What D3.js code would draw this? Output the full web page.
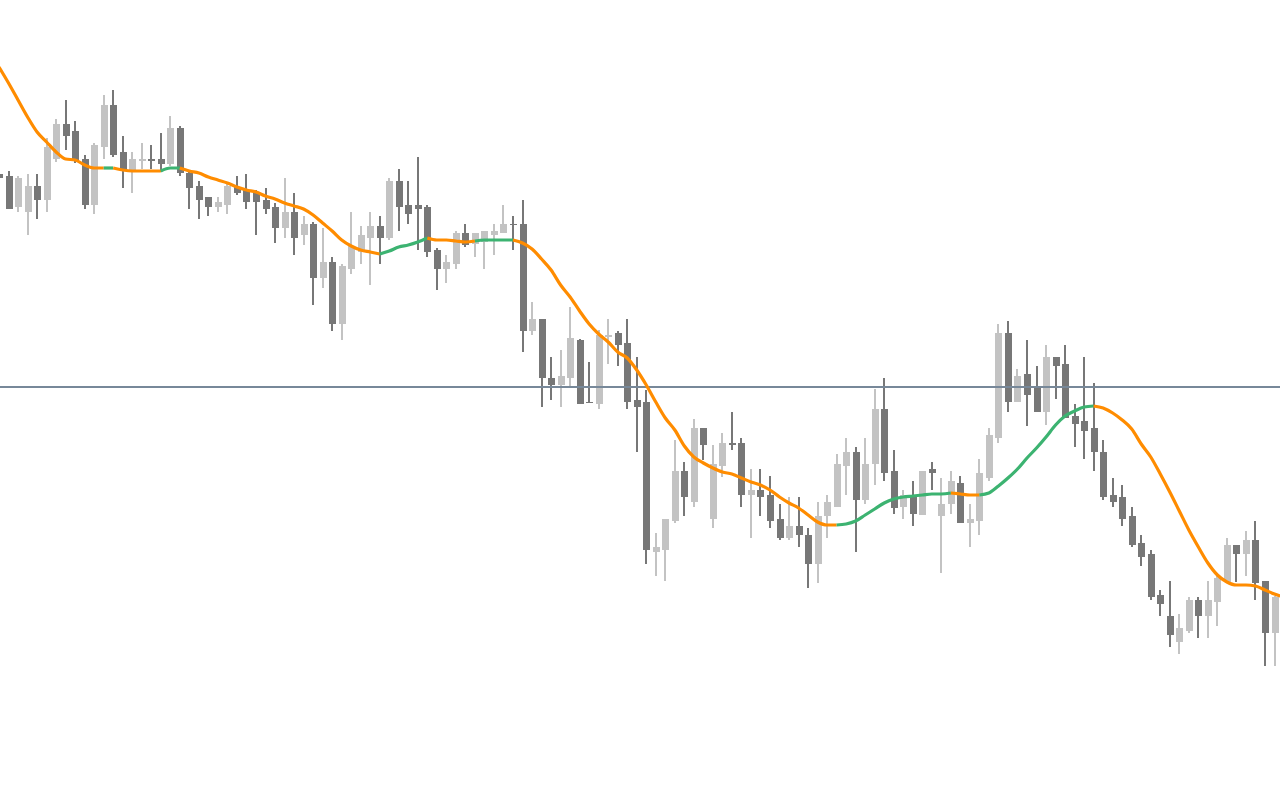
<!DOCTYPE html>
<html>
<head>
<meta charset="utf-8">
<script src="https://cdn.jsdelivr.net/npm/d3@7"></script>
<style>
html,body{margin:0;padding:0;background:#fff;overflow:hidden;}
svg{display:block;}
</style>
</head>
<body>
<svg id="chart" width="1280" height="800"></svg>
<script>
// ---- Data (prices) ----
const opens = [1.1826,1.1824,1.1793,1.1788,1.1814,1.1800,1.1841,1.1876,1.1869,1.1841,
1.1795,1.1853,1.1895,1.1848,1.1830,1.1839,1.1841,1.1841,1.1836,1.1872,
1.1827,1.1814,1.1803,1.1793,1.1795,1.1813,1.1810,1.1808,1.1800,1.1793,
1.1772,1.1788,1.1765,1.1776,1.1722,1.1738,1.1676,1.1731,1.1748,1.1762,
1.1774,1.1762,1.1819,1.1795,1.1795,1.1793,1.1750,1.1731,1.1736,1.1767,
1.1756,1.1758,1.1765,1.1767,1.1776,1.1776,1.1669,1.1681,1.1622,1.1615,
1.1622,1.1660,1.1598,1.1596,1.1663,1.1667,1.1657,1.1600,1.1598,1.1448,
1.1450,1.1479,1.1529,1.1498,1.1572,1.1481,1.1534,1.1557,1.1557,1.1505,
1.1510,1.1505,1.1481,1.1462,1.1474,1.1465,1.1436,1.1484,1.1493,1.1534,
1.1548,1.1500,1.1536,1.1591,1.1529,1.1493,1.1505,1.1485,1.1531,1.1484,
1.1496,1.1517,1.1477,1.1479,1.1522,1.1562,1.1667,1.1598,1.1626,1.1612,
1.1588,1.1643,1.1636,1.1584,1.1579,1.1572,1.1548,1.1505,1.1503,1.1484,
1.1457,1.1446,1.1405,1.1384,1.1358,1.1369,1.1400,1.1384,1.1398,1.1418,
1.1455,1.1446,1.1460,1.1419,1.1367];
const highs = [1.1828,1.1829,1.1824,1.1826,1.1826,1.1862,1.1881,1.1900,1.1879,1.1845,
1.1857,1.1905,1.1910,1.1864,1.1848,1.1857,1.1855,1.1867,1.1884,1.1874,
1.1830,1.1819,1.1803,1.1803,1.1816,1.1824,1.1826,1.1810,1.1812,1.1797,
1.1822,1.1807,1.1784,1.1778,1.1772,1.1743,1.1736,1.1788,1.1774,1.1788,
1.1784,1.1822,1.1831,1.1819,1.1843,1.1795,1.1752,1.1745,1.1769,1.1776,
1.1767,1.1769,1.1776,1.1795,1.1784,1.1800,1.1698,1.1681,1.1643,1.1650,
1.1693,1.1661,1.1638,1.1670,1.1681,1.1669,1.1681,1.1643,1.1610,1.1467,
1.1481,1.1560,1.1538,1.1581,1.1572,1.1555,1.1567,1.1588,1.1562,1.1531,
1.1531,1.1524,1.1496,1.1503,1.1503,1.1472,1.1498,1.1505,1.1546,1.1562,
1.1553,1.1562,1.1611,1.1622,1.1550,1.1510,1.1519,1.1529,1.1538,1.1522,
1.1529,1.1524,1.1496,1.1541,1.1572,1.1676,1.1679,1.1631,1.1660,1.1634,
1.1655,1.1643,1.1655,1.1596,1.1643,1.1617,1.1560,1.1522,1.1515,1.1493,
1.1465,1.1450,1.1410,1.1419,1.1386,1.1403,1.1403,1.1419,1.1424,1.1462,
1.1455,1.1469,1.1479,1.1419,1.1404];
const lows = [1.1820,1.1791,1.1788,1.1765,1.1781,1.1788,1.1838,1.1850,1.1837,1.1791,
1.1786,1.1841,1.1843,1.1812,1.1807,1.1831,1.1831,1.1828,1.1834,1.1824,
1.1791,1.1781,1.1784,1.1788,1.1786,1.1805,1.1791,1.1765,1.1786,1.1757,
1.1762,1.1745,1.1755,1.1695,1.1712,1.1669,1.1660,1.1726,1.1736,1.1715,
1.1736,1.1760,1.1769,1.1776,1.1750,1.1743,1.1710,1.1717,1.1731,1.1753,
1.1743,1.1731,1.1745,1.1767,1.1750,1.1648,1.1665,1.1593,1.1600,1.1593,
1.1612,1.1596,1.1597,1.1591,1.1636,1.1634,1.1591,1.1548,1.1436,1.1424,
1.1419,1.1477,1.1484,1.1493,1.1540,1.1472,1.1523,1.1550,1.1493,1.1462,
1.1484,1.1472,1.1460,1.1460,1.1453,1.1412,1.1417,1.1462,1.1493,1.1505,
1.1448,1.1496,1.1515,1.1519,1.1486,1.1481,1.1474,1.1485,1.1510,1.1427,
1.1486,1.1477,1.1453,1.1465,1.1519,1.1557,1.1588,1.1598,1.1574,1.1588,
1.1575,1.1601,1.1582,1.1553,1.1541,1.1529,1.1500,1.1493,1.1474,1.1453,
1.1434,1.1400,1.1384,1.1353,1.1346,1.1367,1.1362,1.1362,1.1374,1.1418,
1.1418,1.1424,1.1400,1.1334,1.1334];
const closes = [1.1822,1.1791,1.1822,1.1814,1.1800,1.1853,1.1876,1.1864,1.1840,1.1795,
1.1855,1.1895,1.1845,1.1830,1.1841,1.1841,1.1839,1.1836,1.1872,1.1827,
1.1812,1.1800,1.1793,1.1798,1.1814,1.1807,1.1798,1.1798,1.1791,1.1772,
1.1788,1.1762,1.1776,1.1722,1.1738,1.1676,1.1734,1.1754,1.1765,1.1774,
1.1762,1.1819,1.1793,1.1786,1.1791,1.1748,1.1731,1.1738,1.1767,1.1755,
1.1767,1.1769,1.1769,1.1776,1.1775,1.1669,1.1681,1.1622,1.1615,1.1624,
1.1662,1.1596,1.1597,1.1665,1.1665,1.1655,1.1598,1.1593,1.1450,1.1453,
1.1481,1.1529,1.1503,1.1572,1.1555,1.1536,1.1557,1.1555,1.1505,1.1510,
1.1503,1.1479,1.1462,1.1474,1.1465,1.1436,1.1484,1.1498,1.1536,1.1548,
1.1500,1.1536,1.1591,1.1527,1.1492,1.1505,1.1486,1.1529,1.1527,1.1496,
1.1519,1.1477,1.1481,1.1527,1.1565,1.1667,1.1598,1.1624,1.1605,1.1588,
1.1643,1.1634,1.1582,1.1576,1.1569,1.1548,1.1503,1.1498,1.1481,1.1455,
1.1443,1.1403,1.1396,1.1365,1.1372,1.1400,1.1384,1.1400,1.1422,1.1455,
1.1446,1.1460,1.1417,1.1367,1.1403];
// smoothed moving average, one value per bar (last one is the bar still forming off-screen)
const maValues = [1.1933,1.1917,1.1900,1.1883,1.1868,1.1858,1.1848,1.1841,1.1840,1.1835,
1.1832,1.1832,1.1832,1.1830,1.1829,1.1829,1.1829,1.1829,1.1832,1.1832,
1.1829,1.1827,1.1823,1.1820,1.1817,1.1813,1.1810,1.1808,1.1804,1.1801,
1.1797,1.1794,1.1791,1.1785,1.1777,1.1769,1.1760,1.1754,1.1750,1.1748,
1.1746,1.1749,1.1753,1.1755,1.1758,1.1762,1.1760,1.1760,1.1759,1.1758,
1.1759,1.1760,1.1760,1.1760,1.1760,1.1757,1.1751,1.1741,1.1730,1.1715,
1.1703,1.1689,1.1676,1.1666,1.1658,1.1648,1.1642,1.1630,1.1615,1.1598,
1.1582,1.1570,1.1554,1.1543,1.1537,1.1532,1.1528,1.1526,1.1522,1.1518,
1.1515,1.1510,1.1503,1.1497,1.1492,1.1485,1.1478,1.1475,1.1475,1.1476,
1.1479,1.1485,1.1491,1.1497,1.1501,1.1503,1.1504,1.1505,1.1506,1.1506,
1.1507,1.1506,1.1505,1.1505,1.1507,1.1514,1.1522,1.1531,1.1542,1.1552,
1.1563,1.1575,1.1584,1.1589,1.1593,1.1594,1.1592,1.1587,1.1580,1.1571,
1.1556,1.1543,1.1526,1.1508,1.1489,1.1470,1.1453,1.1437,1.1425,1.1418,
1.1415,1.1415,1.1414,1.1410,1.1406,1.1403];
// bar-index ranges where the average is rising (drawn green)
const risingRanges = [[11,12],[17,19],[40,45],[50,54],[88,100],[103,115]];
const levelPrice = 1.1613;

// ---- Drawing ----
const W = 1280, H = 800;
const svg = d3.select('#chart');
svg.append('rect').attr('width', W).attr('height', H).attr('fill', '#ffffff');

const x = d3.scaleLinear().domain([1, 134]).range([8.5, 1274.5]);
const y = d3.scaleLinear().domain([1.12, 1.20]).range([H, 0]);

const bars = opens.map((o, i) => ({i, o, h: highs[i], l: lows[i], c: closes[i]}));
const bearCol = '#777777', bullCol = '#c3c3c3';

const g = svg.append('g').attr('shape-rendering', 'crispEdges');
g.selectAll('rect.wick').data(bars).join('rect').attr('class', 'wick')
  .attr('x', d => Math.round(x(d.i)) - 1)
  .attr('width', 2)
  .attr('y', d => Math.round(y(d.h)))
  .attr('height', d => Math.max(1, Math.round(y(d.l)) - Math.round(y(d.h))))
  .attr('fill', d => d.c < d.o ? bearCol : bullCol);
g.selectAll('rect.body').data(bars).join('rect').attr('class', 'body')
  .attr('x', d => Math.round(x(d.i)) - 3)
  .attr('width', 7)
  .attr('y', d => Math.round(y(Math.max(d.o, d.c))))
  .attr('height', d => Math.max(1, Math.round(y(Math.min(d.o, d.c))) - Math.round(y(Math.max(d.o, d.c)))))
  .attr('fill', d => d.c < d.o ? bearCol : bullCol);

// horizontal level line
svg.append('line')
  .attr('x1', 0).attr('x2', W)
  .attr('y1', y(levelPrice)).attr('y2', y(levelPrice))
  .attr('stroke', '#778899').attr('stroke-width', 2)
  .attr('shape-rendering', 'crispEdges');

// moving average split into coloured runs
const isRising = i => risingRanges.some(([a, b]) => i >= a && i < b);
const runs = [];
for (let i = 0; i < maValues.length - 1; i++) {
  const up = isRising(i);
  const last = runs[runs.length - 1];
  if (last && last.up === up) last.pts.push(i + 1);
  else runs.push({up, pts: [i, i + 1]});
}
const line = d3.line().x(i => x(i)).y(i => y(maValues[i])).curve(d3.curveMonotoneX);
svg.append('g').selectAll('path').data(runs).join('path')
  .attr('d', r => line(r.pts))
  .attr('fill', 'none')
  .attr('stroke', r => r.up ? '#3cb371' : '#ff8c00')
  .attr('stroke-width', 3.2)
  .attr('stroke-linejoin', 'round');
</script>
</body>
</html>
